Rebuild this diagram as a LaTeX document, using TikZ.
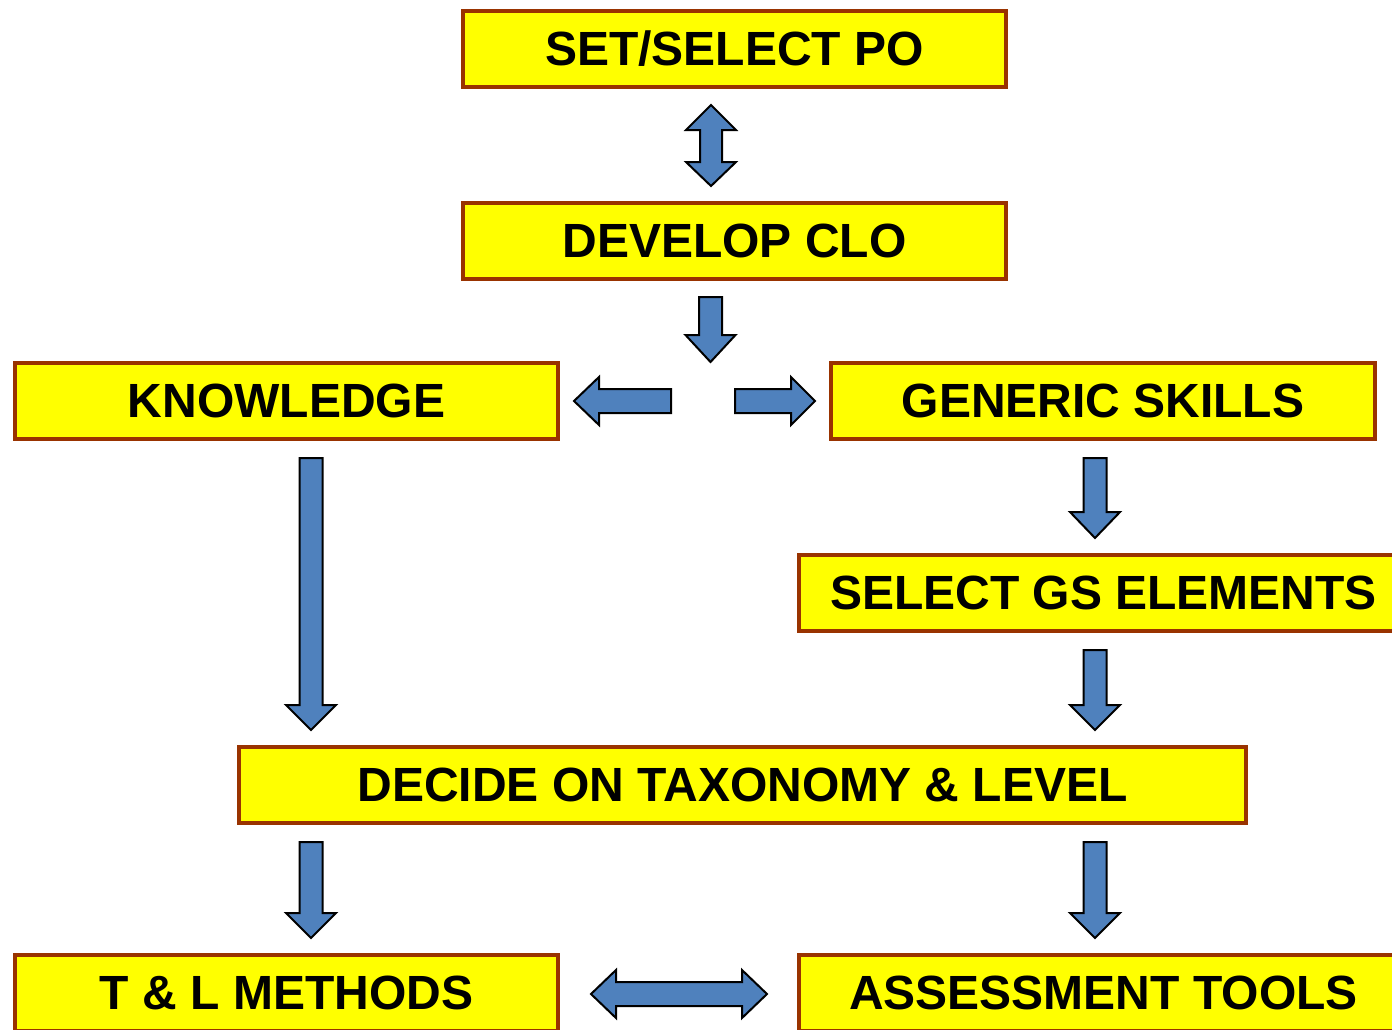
\documentclass[tikz,border=0pt]{standalone}
\usepackage{fontspec}
\setmainfont{Liberation Sans}
\definecolor{boxfill}{HTML}{FFFF00}
\definecolor{boxedge}{HTML}{993300}
\definecolor{arrowblue}{HTML}{4F81BD}
% block arrows: shaft half-width 11.5, head half-width 25
\newcommand\blkdown[4]{\draw[blk] (#1-11.5,#2) -- (#1+11.5,#2) -- (#1+11.5,#3) -- (#1+25,#3) -- (#1,#4) -- (#1-25,#3) -- (#1-11.5,#3) -- cycle;}
\begin{document}
\begin{tikzpicture}[x=1pt,y=-1pt,
  box/.style={draw=boxedge, line width=4pt, fill=boxfill, inner sep=0pt,
    minimum height=76pt, font=\fontsize{48}{53}\selectfont\bfseries},
  blk/.style={draw=black, line width=2pt, fill=arrowblue, line join=miter}]
\useasboundingbox (0,0) rectangle (1392,1029);
\clip (0,0) rectangle (1392,1029);

% process boxes
\node[box, minimum width=543pt] (po)   at (734.5,49)  {SET/SELECT PO};
\node[box, minimum width=543pt] (clo)  at (734.5,240.5) {DEVELOP CLO};
\node[box, minimum width=543pt] (know) at (286.5,401) {KNOWLEDGE};
\node[box, minimum width=544pt] (gs)   at (1103,401)  {GENERIC SKILLS};
\node[box, minimum width=609pt] (gse)  at (1103.5,593) {SELECT GS ELEMENTS};
\node[box, minimum width=1007pt] (tax) at (742.5,785) {DECIDE ON TAXONOMY \& LEVEL};
\node[box, minimum width=543pt] (tl)   at (286.5,993) {T \& L METHODS};
\node[box, minimum width=609pt] (at)   at (1103.5,993) {ASSESSMENT TOOLS};

% two-way arrow between PO and CLO
\draw[blk] (711,105) -- (736,130) -- (722,130) -- (722,162) -- (736,162) -- (711,186)
  -- (686,162) -- (700,162) -- (700,130) -- (686,130) -- cycle;

% one-way arrows
\blkdown{710.5}{297}{335}{362}
\blkdown{311}{458}{705}{730}
\blkdown{1095}{458}{512}{538}
\blkdown{1095}{650}{705}{730}
\blkdown{311}{842}{913}{938}
\blkdown{1095}{842}{913}{938}

% branching arrows to KNOWLEDGE and GENERIC SKILLS
\draw[blk] (574,401) -- (599,377) -- (599,389) -- (671,389) -- (671,413) -- (599,413) -- (599,425) -- cycle;
\draw[blk] (815,401) -- (791,377) -- (791,389) -- (735,389) -- (735,413) -- (791,413) -- (791,425) -- cycle;

% two-way arrow between T&L and assessment
\draw[blk] (591,994) -- (616,970) -- (616,982) -- (742,982) -- (742,970) -- (767,994)
  -- (742,1018) -- (742,1006) -- (616,1006) -- (616,1018) -- cycle;
\end{tikzpicture}
\end{document}
